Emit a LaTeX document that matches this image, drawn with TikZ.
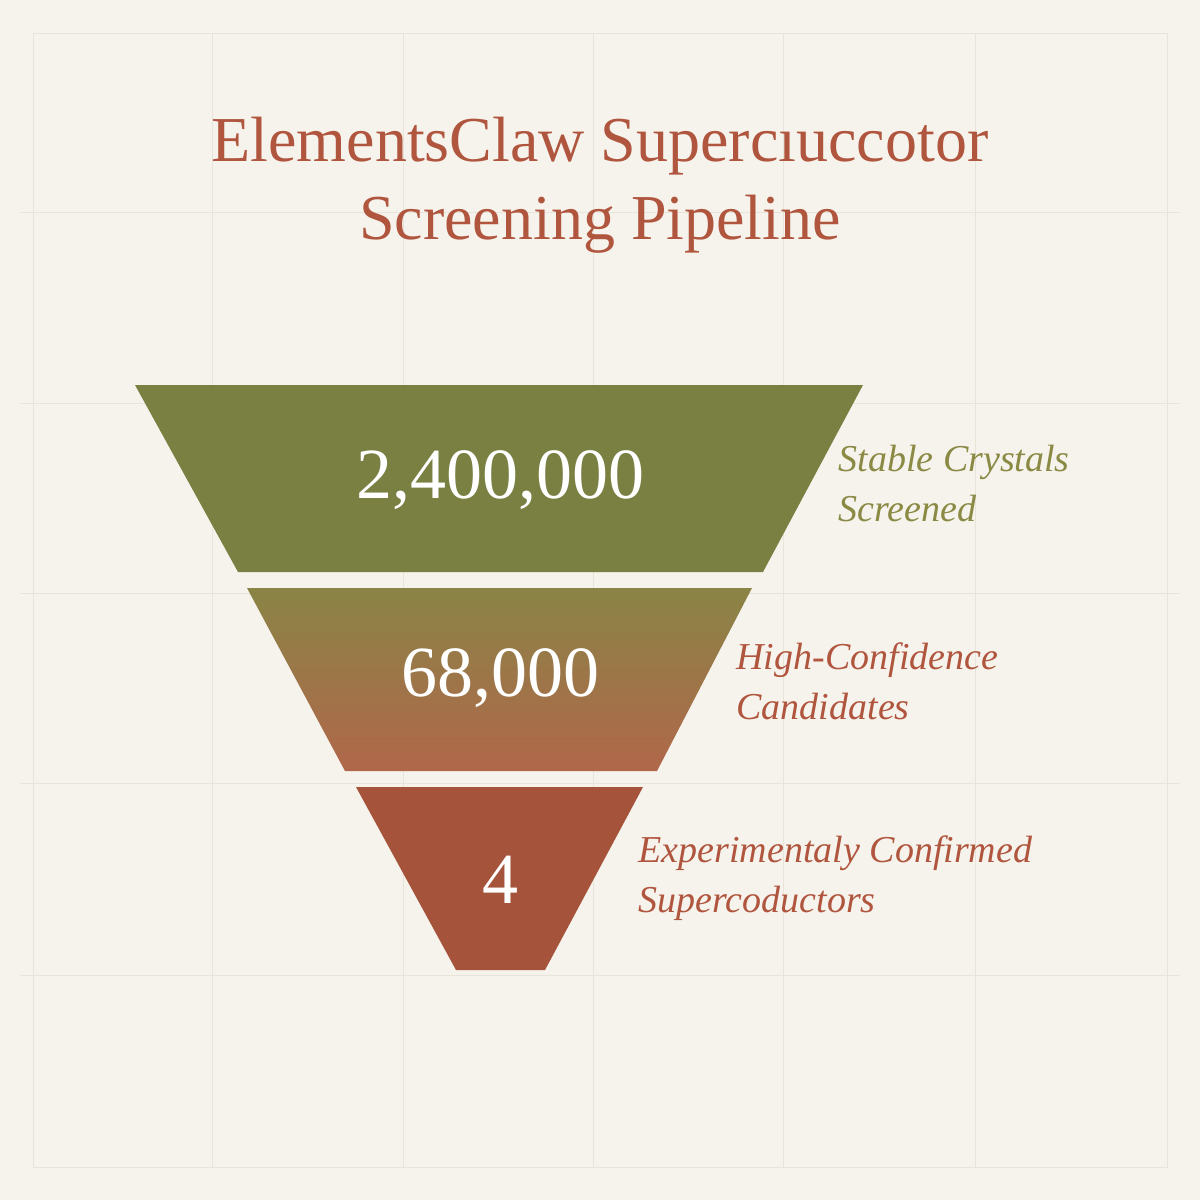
\documentclass[tikz,border=0pt]{standalone}
\usepackage{fontspec}
\setmainfont{Liberation Serif}
\definecolor{bg}{HTML}{F6F3EC}
\definecolor{gridc}{HTML}{E8E4DA}
\definecolor{olive}{HTML}{7A7F42}
\definecolor{oliveT}{HTML}{8A8A45}
\definecolor{rust}{HTML}{A5533A}
\definecolor{rustT}{HTML}{B0553E}
\definecolor{midtop}{HTML}{8A8446}
\definecolor{midbot}{HTML}{B0674A}
\tikzset{
  num/.style={text=white,font=\fontsize{72}{80}\selectfont},
  lab/.style={anchor=west,align=left,font=\itshape\fontsize{38}{50}\selectfont},
}
\begin{document}
\begin{tikzpicture}[x=1pt,y=-1pt]
\fill[bg] (0,0) rectangle (1200,1200);
\useasboundingbox (0,0) rectangle (1200,1200);
\foreach \v in {212,403,593,783,975}{
  \draw[gridc,line width=1pt] (\v,33) -- (\v,1167);
  \draw[gridc,line width=1pt] (20,\v) -- (1180,\v);
}
\draw[gridc,line width=1pt] (33,33) rectangle (1167,1167);
\node[text=rustT,align=center,font=\fontsize{64}{78}\selectfont] (title) at (600,185) {ElementsClaw Superc\i uccotor\\Screening Pipeline};
\fill[olive] (135,385) -- (863,385) -- (763,572) -- (238,572) -- cycle;
\shade[top color=midtop,bottom color=midbot] (247,588) -- (752,588) -- (657,771) -- (345,771) -- cycle;
\fill[rust] (356,787) -- (643,787) -- (545,970) -- (456,970) -- cycle;
\node[num] (n1) at (500,480) {2,400,000};
\node[num] (n2) at (500,678) {68,000};
\node[num] (n3) at (500,880) {4};
\node[lab,text=oliveT] (l1) at (835,484) {Stable Crystals\\Screened};
\node[lab,text=rustT] (l2) at (733,681) {High-Confidence\\Candidates};
\node[lab,text=rustT] (l3) at (635,878) {Experimentaly Confirmed\\Supercoductors};
\end{tikzpicture}
\end{document}
